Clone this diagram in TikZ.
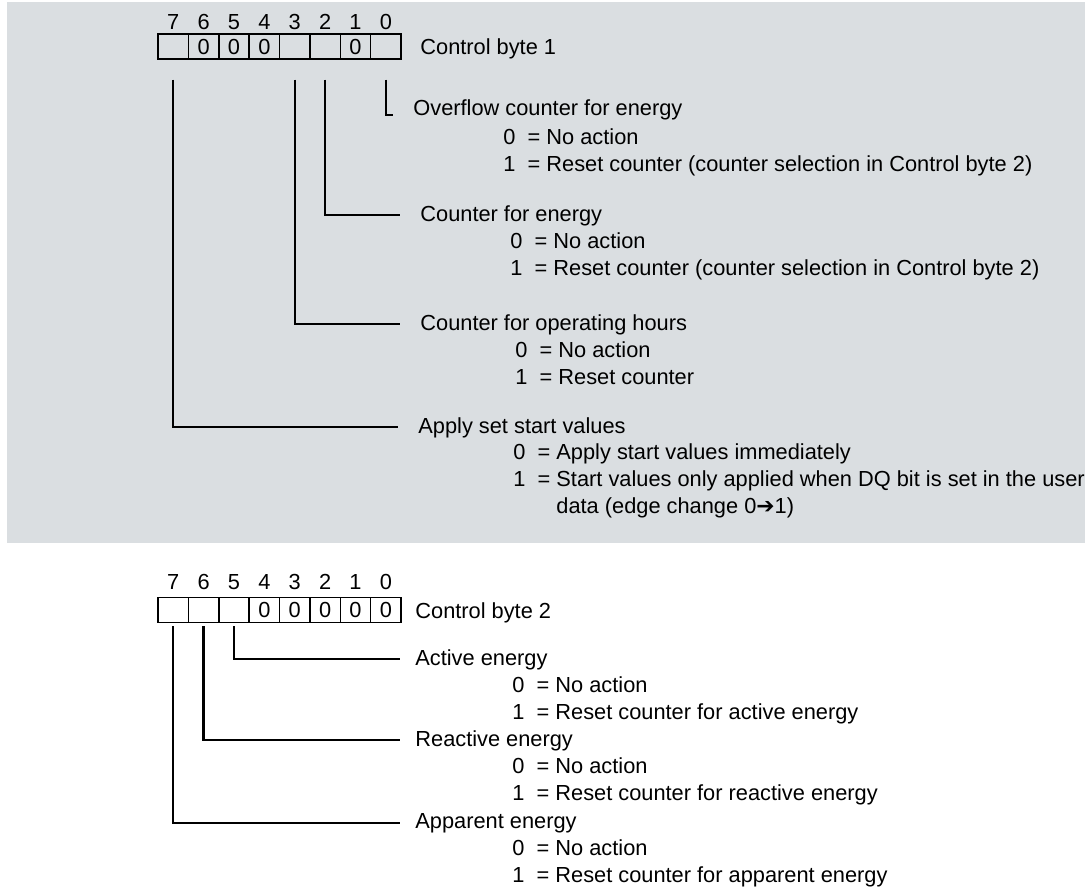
\documentclass[tikz,border=0pt]{standalone}
\usepackage{fontspec}
\setmainfont{Liberation Sans}
\newfontfamily\arrowfont{DejaVu Sans}
\usepackage{xcolor}
\usetikzlibrary{positioning}
\definecolor{panelgray}{RGB}{218,222,225}

\begin{document}
\begin{tikzpicture}[x=0.5pt,y=-0.5pt,font=\fontsize{10.9pt}{13pt}\selectfont]%
  \tikzstyle{cell}=[rectangle,draw,line width=0.75pt,minimum width=15.19pt,minimum height=12.5pt,inner sep=0]
  \tikzstyle{bitno}=[inner sep=0]
  \tikzstyle{lbl}=[anchor=base west,inner xsep=10pt,inner ysep=0]
  \tikzstyle{opt}=[anchor=base west,inner sep=0]
  \tikzstyle{wire}=[line width=1.1pt]
  \useasboundingbox (0,0) rectangle (1085,888);
  \fill[panelgray] (7,2) rectangle (1085,543);
  % control byte 1
  \foreach \b/\v [count=\i from 0] in {7/,6/0,5/0,4/0,3/,2/,1/0,0/}{
    \node[cell] (a\b) at (173.2+30.375*\i,46.5) {\v};
    \node[bitno] (na\b) at (173.2+30.375*\i,22) {\b};
  }
  \node[opt] (cb1) at (420,55) {Control byte 1};
  \node[lbl] (ovf) at (393,115) {Overflow counter for energy};
  \node[opt] (ovf0) at (503,144) {0\ \ = No action};
  \node[opt] (ovf1) at (503,171) {1\ \ = Reset counter (counter selection in Control byte 2)};
  \node[lbl] (cen) at (400,221) {Counter for energy};
  \node[opt] (cen0) at (510,248) {0\ \ = No action};
  \node[opt] (cen1) at (510,275) {1\ \ = Reset counter (counter selection in Control byte 2)};
  \node[lbl] (ohr) at (400,330) {Counter for operating hours};
  \node[opt] (ohr0) at (515,357) {0\ \ = No action};
  \node[opt] (ohr1) at (515,384) {1\ \ = Reset counter};
  \node[lbl] (asv) at (398,433) {Apply set start values};
  \node[opt] (asv0) at (513,459) {0\ \ = Apply start values immediately};
  \node[opt] (asv1) at (513,486) {1\ \ = Start values only applied when DQ bit is set in the user};
  \node[opt] (asv2) at (513,513) {\phantom{1\ \ = }data (edge change 0{\arrowfont ➔}1)};
  \draw[wire] ([yshift=-10pt]a0.south) |- (ovf.base west);
  \draw[wire] ([yshift=-10pt]a2.south) |- (cen.west);
  \draw[wire] ([yshift=-10pt]a3.south) |- (ohr.west);
  \draw[wire] ([yshift=-10pt]a7.south) |- (asv.west);
  % control byte 2
  \foreach \b/\v [count=\i from 0] in {7/,6/,5/,4/0,3/0,2/0,1/0,0/0}{
    \node[cell] (b\b) at (173.2+30.375*\i,610) {\v};
    \node[bitno] (nb\b) at (173.2+30.375*\i,582) {\b};
  }
  \node[opt] (cb2) at (415,618) {Control byte 2};
  \node[lbl,inner xsep=7.5pt] (act) at (400,665) {Active energy};
  \node[opt] (act0) at (512,692) {0\ \ = No action};
  \node[opt] (act1) at (512,719) {1\ \ = Reset counter for active energy};
  \node[lbl,inner xsep=7.5pt] (rea) at (400,746) {Reactive energy};
  \node[opt] (rea0) at (512,773) {0\ \ = No action};
  \node[opt] (rea1) at (512,800) {1\ \ = Reset counter for reactive energy};
  \node[lbl,inner xsep=7.5pt] (app) at (400,828) {Apparent energy};
  \node[opt] (app0) at (512,855) {0\ \ = No action};
  \node[opt] (app1) at (512,882) {1\ \ = Reset counter for apparent energy};
  \draw[wire] ([yshift=-1.5pt]b5.south) |- (act.west);
  \draw[wire] ([yshift=-1.5pt]b6.south) |- (rea.west);
  \draw[wire] ([yshift=-1.5pt]b7.south) |- (app.west);
\end{tikzpicture}
\end{document}
